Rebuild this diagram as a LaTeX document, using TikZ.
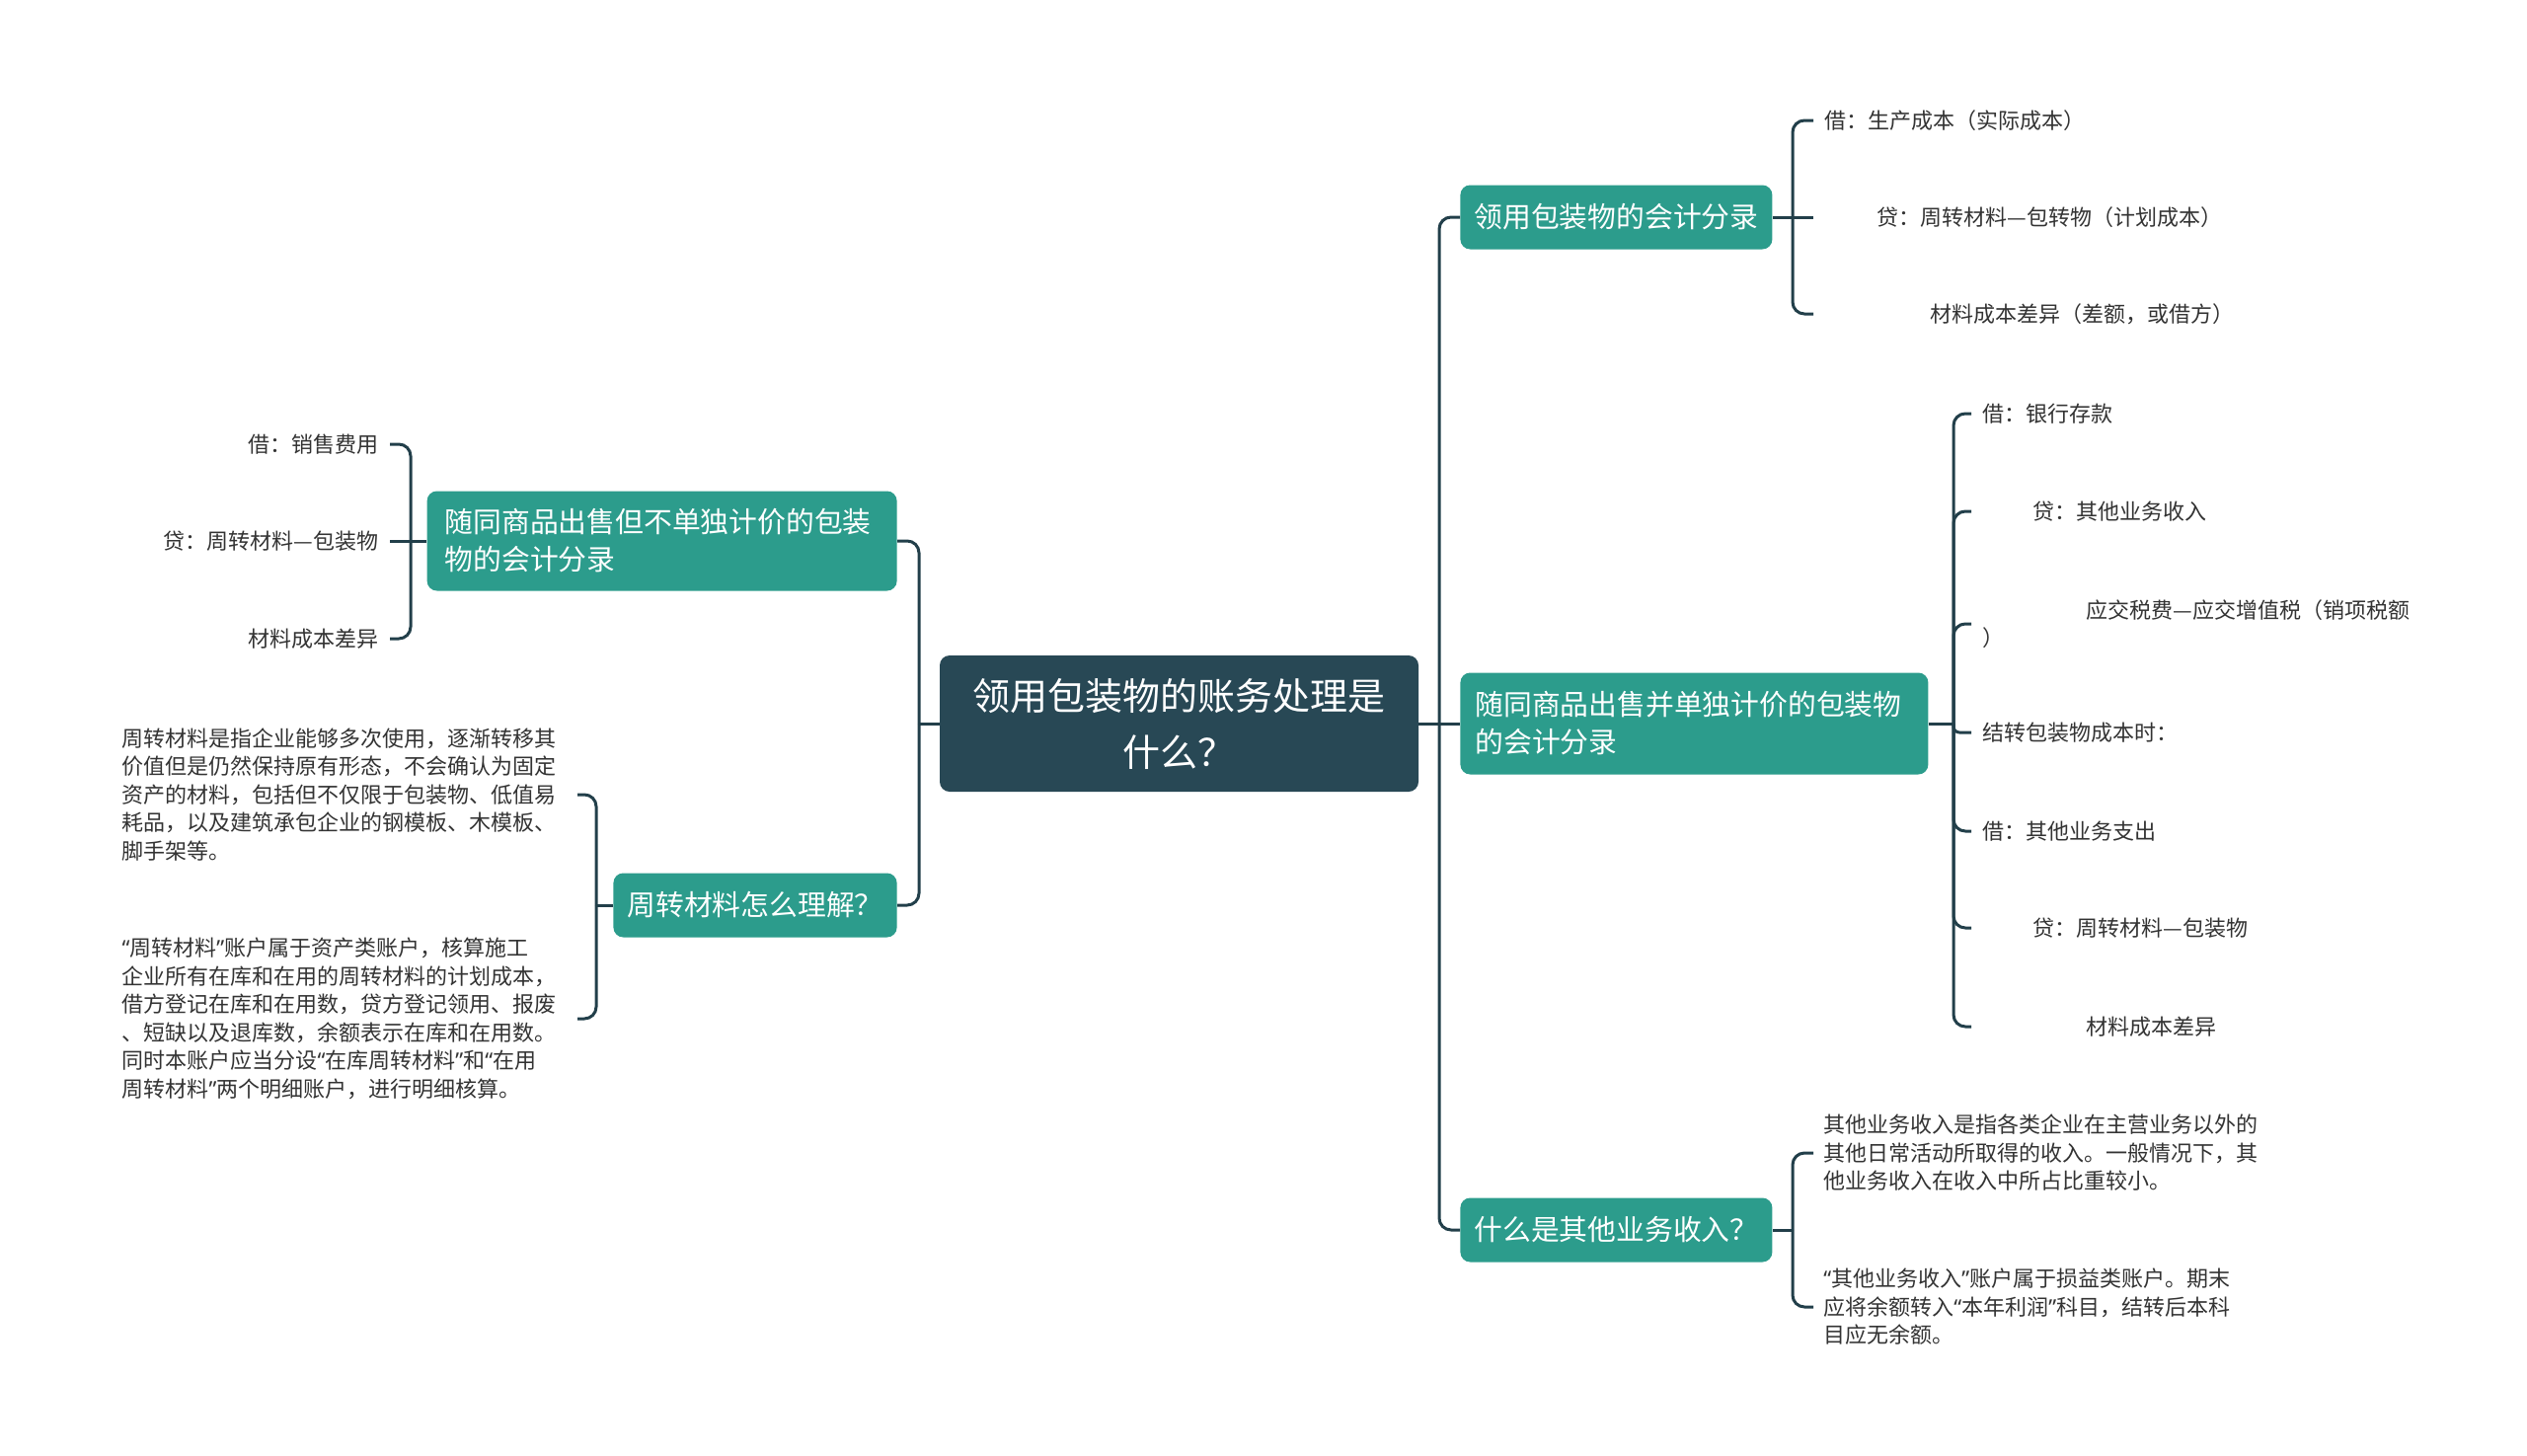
\documentclass[tikz,border=0pt]{standalone}
\usepackage{fontspec}
\setmainfont{Noto Sans CJK SC}
\newfontfamily\quotefnt{Noto Sans}
\newcommand\myoq{{\quotefnt “}}
\newcommand\mycq{{\quotefnt ”}}
\definecolor{linec}{HTML}{223F4A}
\definecolor{teal1}{HTML}{2C9C8C}
\definecolor{darkc}{HTML}{284855}
\definecolor{leaftext}{HTML}{333333}
\begin{document}
\begin{tikzpicture}[x=0.5pt,y=-0.5pt,
  conn/.style={draw=linec, line width=1.5pt, rounded corners=6pt},
  topic/.style={fill=teal1, text=white, rounded corners=5pt,
    font=\fontsize{14.4}{19}\selectfont, inner xsep=7pt, minimum height=32.5pt},
  central/.style={fill=darkc, text=white, rounded corners=5pt,
    font=\fontsize{19}{28.5}\selectfont, align=center,
    minimum width=242.5pt, minimum height=69pt},
  leaf/.style={font=\fontsize{11}{14.25}\selectfont, text=leaftext,
    inner xsep=5.5pt, inner ysep=2pt},
  para/.style={leaf, align=left, inner xsep=3.5pt}
]
\useasboundingbox (0,0) rectangle (2560,1474);

% central
\node[central] (C) at (1194.5,733) {领用包装物的账务处理是\\什么？};

% right topics
\node[topic, anchor=west] (R1) at (1479,220) {领用包装物的会计分录};
\node[topic, anchor=west, text width=222pt, align=left, minimum height=51.5pt, inner xsep=7.5pt] (R2) at (1479,733) {随同商品出售并单独计价的包装物\\的会计分录};
\node[topic, anchor=west] (R3) at (1479,1246) {什么是其他业务收入？};

% left topics
\node[topic, anchor=east, text width=220pt, align=left, minimum height=50.5pt, inner xsep=9pt] (L1) at (909,548) {随同商品出售但不单独计价的包装\\物的会计分录};
\node[topic, anchor=east] (L2) at (909,917) {周转材料怎么理解？};

% R1 leaves
\node[leaf, anchor=west] (a1) at (1837,122) {借：生产成本（实际成本）};
\node[leaf, anchor=west] (a2) at (1837,220) {\hspace*{26.5pt}贷：周转材料—包转物（计划成本）};
\node[leaf, anchor=west] (a3) at (1837,318) {\hspace*{53.5pt}材料成本差异（差额，或借方）};

% R2 leaves
\node[leaf, anchor=west] (c1) at (1997,419) {借：银行存款};
\node[leaf, anchor=west] (c2) at (1997,518) {\hspace*{25.5pt}贷：其他业务收入};
\node[leaf, anchor=west, align=left] (c3) at (1997,632) {\hspace*{52.5pt}应交税费—应交增值税（销项税额\\）};
\node[leaf, anchor=west] (c4) at (1997,742) {结转包装物成本时：};
\node[leaf, anchor=west] (c5) at (1997,842) {借：其他业务支出};
\node[leaf, anchor=west] (c6) at (1997,940) {\hspace*{25.5pt}贷：周转材料—包装物};
\node[leaf, anchor=west] (c7) at (1997,1040) {\hspace*{52.5pt}材料成本差异};

% R3 leaves
\node[para, anchor=west, inner xsep=5pt, text width=230pt] (p1) at (1837,1168) {其他业务收入是指各类企业在主营业务以外的\\其他日常活动所取得的收入。一般情况下，其\\他业务收入在收入中所占比重较小。};
\node[para, anchor=west, inner xsep=5pt, text width=230pt] (p2) at (1837,1324) {\myoq 其他业务收入\mycq 账户属于损益类账户。期末\\应将余额转入\myoq 本年利润\mycq 科目，结转后本科\\目应无余额。};

% L1 leaves
\node[leaf, anchor=east] (b1) at (395,450) {借：销售费用};
\node[leaf, anchor=east] (b2) at (395,548) {贷：周转材料—包装物};
\node[leaf, anchor=east] (b3) at (395,647) {材料成本差异};

% L2 leaves
\node[para, anchor=east, text width=227pt] (q1) at (585,805) {周转材料是指企业能够多次使用，逐渐转移其\\价值但是仍然保持原有形态，不会确认为固定\\资产的材料，包括但不仅限于包装物、低值易\\耗品，以及建筑承包企业的钢模板、木模板、\\脚手架等。};
\node[para, anchor=east, text width=227pt] (q2) at (585,1032) {\myoq 周转材料\mycq 账户属于资产类账户，核算施工\\企业所有在库和在用的周转材料的计划成本，\\借方登记在库和在用数，贷方登记领用、报废\\、短缺以及退库数，余额表示在库和在用数。\\同时本账户应当分设\myoq 在库周转材料\mycq 和\myoq 在用\\周转材料\mycq 两个明细账户，进行明细核算。};

% spine coordinates
\coordinate (rs) at (1458,733);
\coordinate (ls) at (931,733);
\coordinate (r1s) at (1816,220);
\coordinate (r2s) at (1979,733);
\coordinate (r3s) at (1816,1246);
\coordinate (l1s) at (416,548);
\coordinate (l2s) at (604,917);

% central connectors
\draw[conn] (C.east) -- (R2.west);
\draw[conn] (rs) |- (R1.west);
\draw[conn] (rs) |- (R3.west);
\draw[conn] (C.west) -- (ls);
\draw[conn] (ls) |- (L1.east);
\draw[conn] (ls) |- (L2.east);

% R1
\draw[conn] (R1.east) -- (a2.west);
\draw[conn] (r1s) |- (a1.west);
\draw[conn] (r1s) |- (a3.west);

% R2
\draw[conn] (R2.east) -- (r2s);
\draw[conn] (r2s) |- (c1.west);
\draw[conn] (r2s) |- (c2.west);
\draw[conn] (r2s) |- (c3.west);
\draw[conn, rounded corners=3pt] (r2s) |- (c4.west);
\draw[conn] (r2s) |- (c5.west);
\draw[conn] (r2s) |- (c6.west);
\draw[conn] (r2s) |- (c7.west);

% R3
\draw[conn] (R3.east) -- (r3s);
\draw[conn] (r3s) |- (p1.west);
\draw[conn] (r3s) |- (p2.west);

% L1
\draw[conn] (L1.west) -- (b2.east);
\draw[conn] (l1s) |- (b1.east);
\draw[conn] (l1s) |- (b3.east);

% L2
\draw[conn] (L2.west) -- (l2s);
\draw[conn] (l2s) |- (q1.east);
\draw[conn] (l2s) |- (q2.east);
\end{tikzpicture}
\end{document}
